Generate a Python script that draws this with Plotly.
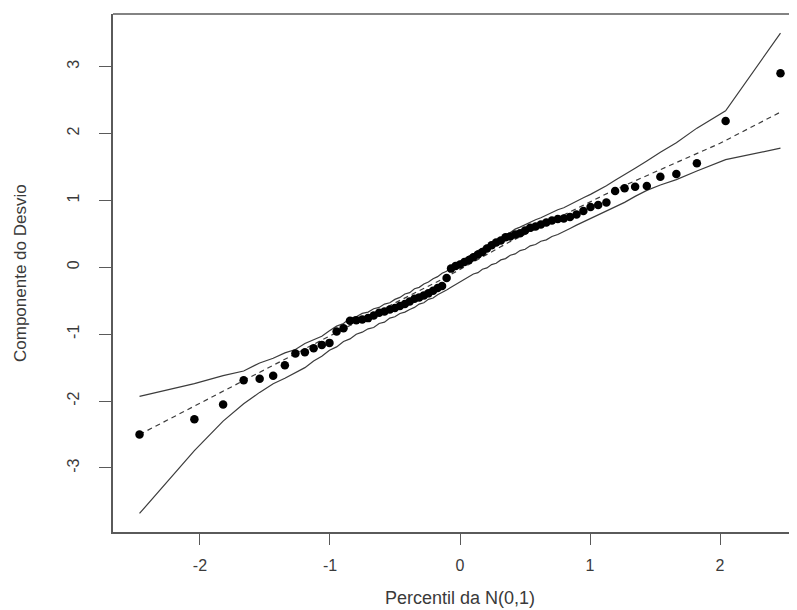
import plotly.graph_objects as go

# Normal quantiles (x) and deviance residual components (y)
x_q = [-2.465, -2.043, -1.822, -1.664, -1.541, -1.437, -1.347, -1.266, -1.193, -1.126,
       -1.063, -1.004, -0.949, -0.896, -0.846, -0.798, -0.752, -0.707, -0.664, -0.622,
       -0.581, -0.540, -0.501, -0.462, -0.424, -0.387, -0.350, -0.314, -0.278, -0.243,
       -0.207, -0.172, -0.138, -0.103, -0.069, -0.034, 0.000, 0.034, 0.069, 0.103,
       0.138, 0.172, 0.207, 0.243, 0.278, 0.314, 0.350, 0.387, 0.424, 0.462,
       0.501, 0.540, 0.581, 0.622, 0.664, 0.707, 0.752, 0.798, 0.846, 0.896,
       0.949, 1.004, 1.063, 1.126, 1.193, 1.266, 1.347, 1.437, 1.541, 1.664,
       1.822, 2.043, 2.465]

residuals = [-2.50, -2.27, -2.05, -1.69, -1.665, -1.62, -1.465, -1.29, -1.27, -1.21,
             -1.16, -1.13, -0.96, -0.91, -0.80, -0.79, -0.78, -0.76, -0.72, -0.68,
             -0.66, -0.63, -0.61, -0.58, -0.55, -0.51, -0.47, -0.45, -0.42, -0.39,
             -0.35, -0.31, -0.28, -0.16, -0.02, 0.02, 0.04, 0.08, 0.11, 0.15,
             0.19, 0.23, 0.28, 0.33, 0.37, 0.40, 0.45, 0.46, 0.49, 0.51,
             0.55, 0.59, 0.61, 0.64, 0.67, 0.70, 0.72, 0.73, 0.75, 0.79,
             0.84, 0.90, 0.93, 0.97, 1.14, 1.18, 1.205, 1.215, 1.354, 1.395,
             1.555, 2.187, 2.90]

# Simulated envelope: upper and lower limits (same x positions)
env_upper = [-1.93, -1.74, -1.62, -1.55, -1.43, -1.36, -1.28, -1.23, -1.14, -1.08,
             -1.03, -0.95, -0.88, -0.84, -0.76, -0.74, -0.69, -0.67, -0.62, -0.60,
             -0.55, -0.53, -0.48, -0.45, -0.40, -0.38, -0.32, -0.30, -0.25, -0.22,
             -0.17, -0.14, -0.09, -0.06, 0.00, 0.04, 0.09, 0.12, 0.17, 0.20,
             0.25, 0.28, 0.33, 0.36, 0.41, 0.44, 0.49, 0.52, 0.57, 0.60,
             0.64, 0.67, 0.71, 0.74, 0.78, 0.81, 0.86, 0.89, 0.94, 0.98,
             1.04, 1.09, 1.15, 1.22, 1.30, 1.38, 1.48, 1.59, 1.72, 1.86,
             2.08, 2.34, 3.50]

env_lower = [-3.68, -2.74, -2.30, -2.04, -1.87, -1.74, -1.66, -1.57, -1.50, -1.40,
             -1.33, -1.24, -1.19, -1.11, -1.07, -1.00, -0.97, -0.92, -0.90, -0.84,
             -0.82, -0.76, -0.74, -0.69, -0.67, -0.63, -0.60, -0.55, -0.53, -0.48,
             -0.46, -0.41, -0.38, -0.34, -0.30, -0.26, -0.22, -0.18, -0.15, -0.10,
             -0.08, -0.03, -0.01, 0.04, 0.06, 0.11, 0.13, 0.18, 0.20, 0.25,
             0.27, 0.32, 0.34, 0.39, 0.41, 0.46, 0.49, 0.54, 0.58, 0.63,
             0.68, 0.73, 0.79, 0.84, 0.91, 0.97, 1.06, 1.15, 1.23, 1.31,
             1.44, 1.61, 1.78]

# Mean of simulated envelopes (dashed line)
med_x = [-2.465, -1.664, -0.846, -0.128, 0.372, 1.180, 2.000, 2.465]
med_y = [-2.50, -1.69, -0.87, -0.17, 0.37, 1.15, 1.853, 2.32]

x_ticks = [-2, -1, 0, 1, 2]
x_tick_text = ["-2", "-1", "0", "1", "2"]
y_ticks = [-3, -2, -1, 0, 1, 2, 3]
y_tick_text = ["-3", "-2", "-1", "0", "1", "2", "3"]

x_title = "Percentil da N(0,1)"
y_title = "Componente do Desvio"

FONT = "Liberation Sans, Arial, Helvetica, sans-serif"
TXT = "#3a3a3a"
AX = "#5a5a5a"

# the page body has an 8px margin: compensate so the plot lands where the reference has it
OFF = 8
W, H = 797 - OFF, 610 - OFF
L, T, B_PIX = 113 - OFF, 14 - OFF, 532 - OFF
PW, PH = W - L, B_PIX - T

fig = go.Figure()
fig.add_trace(go.Scatter(x=x_q, y=env_upper, mode="lines",
                         line=dict(color="#3c3c3c", width=1.2), hoverinfo="skip"))
fig.add_trace(go.Scatter(x=x_q, y=env_lower, mode="lines",
                         line=dict(color="#3c3c3c", width=1.2), hoverinfo="skip"))
fig.add_trace(go.Scatter(x=med_x, y=med_y, mode="lines",
                         line=dict(color="#3c3c3c", width=1.2, dash="5px,4px"),
                         hoverinfo="skip"))
fig.add_trace(go.Scatter(x=x_q, y=residuals, mode="markers",
                         marker=dict(color="black", size=8.5, line=dict(width=0))))

fig.update_layout(
    width=W, height=H,
    margin=dict(l=L, r=0, t=T, b=H - B_PIX, autoexpand=False),
    paper_bgcolor="white", plot_bgcolor="white",
    showlegend=False,
    font=dict(family=FONT, color=TXT, size=16),
    xaxis=dict(range=[-2.669, 2.592], tickvals=x_ticks, ticktext=x_tick_text,
               showgrid=False, zeroline=False,
               showline=True, linecolor=AX, linewidth=1.6,
               ticks="outside", ticklen=11, tickwidth=1.4, tickcolor=AX,
               ticklabelstandoff=7,
               tickfont=dict(family=FONT, size=16, color=TXT)),
    yaxis=dict(range=[-3.957, 3.786], tickvals=y_ticks, ticktext=y_tick_text,
               showgrid=False, zeroline=False,
               showline=True, linecolor=AX, linewidth=1.6,
               ticks="outside", ticklen=12, tickwidth=1.4, tickcolor=AX,
               tickangle=-90, ticklabelstandoff=14,
               tickfont=dict(family=FONT, size=16, color=TXT)),
    shapes=[dict(type="line", xref="paper", yref="paper", x0=0, x1=1, y0=1, y1=1,
                 line=dict(color=AX, width=1.6))],
    annotations=[
        dict(text=x_title, xref="paper", yref="paper", x=(460 - 113) / PW,
             y=(532 - 598) / PH, xanchor="center", yanchor="middle",
             showarrow=False, font=dict(family=FONT, size=18, color=TXT)),
        dict(text=y_title, xref="paper", yref="paper", x=(20 - 113) / PW,
             y=0.5, xanchor="center", yanchor="middle", textangle=-90,
             showarrow=False, font=dict(family=FONT, size=17, color=TXT)),
    ],
)

fig.write_html("out.html")
